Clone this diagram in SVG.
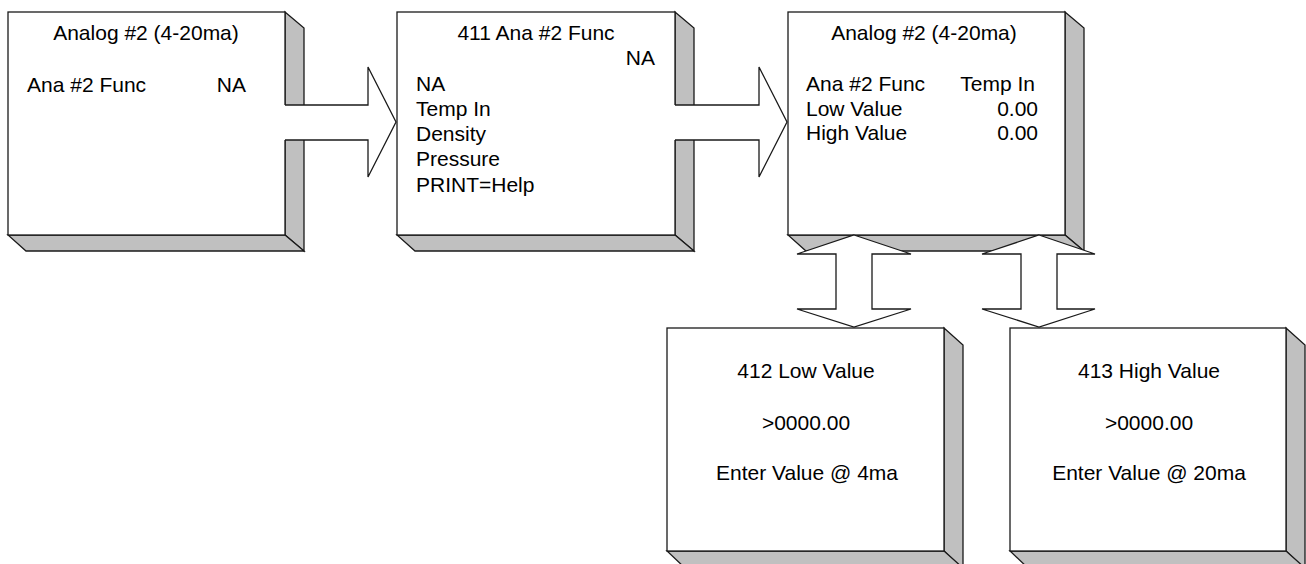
<svg xmlns="http://www.w3.org/2000/svg" width="1306" height="564" viewBox="0 0 1306 564">
<style>
.front{fill:#fff;stroke:#1a1a1a;stroke-width:1.3}
.side{fill:#c0c0c0;stroke:#1a1a1a;stroke-width:1.3;stroke-linejoin:miter}
.af{fill:#fff;stroke:none}
.as{fill:none;stroke:#1a1a1a;stroke-width:1.3}
.ad{fill:#fff;stroke:#1a1a1a;stroke-width:1.3}
text{font-family:"Liberation Sans",Arial,sans-serif;font-size:21px;fill:#000}
.c{text-anchor:middle}
.r{text-anchor:end}
</style>
<g id="node1">
<polygon class="side" points="285,12 304,28 304,251 285,235"/>
<polygon class="side" points="8,235 285,235 304,251 26,251"/>
<rect class="front" x="8" y="12" width="277" height="223"/>
<text class="c" x="146" y="40">Analog #2 (4-20ma)</text>
<text x="27" y="92">Ana #2 Func</text>
<text class="r" x="246" y="92">NA</text>
</g>
<g id="node2">
<polygon class="side" points="675,12 694,28 694,251 675,235"/>
<polygon class="side" points="397,235 675,235 694,251 415,251"/>
<rect class="front" x="397" y="12" width="278" height="223"/>
<text class="c" x="536" y="40">411 Ana #2 Func</text>
<text class="r" x="655" y="65">NA</text>
<text x="416" y="91">NA</text>
<text x="416" y="116">Temp In</text>
<text x="416" y="141">Density</text>
<text x="416" y="166">Pressure</text>
<text x="416" y="192">PRINT=Help</text>
</g>
<g id="node3">
<polygon class="side" points="1065,12 1084,28 1084,251 1065,235"/>
<polygon class="side" points="788,235 1065,235 1084,251 806,251"/>
<rect class="front" x="788" y="12" width="277" height="223"/>
<text class="c" x="924" y="40">Analog #2 (4-20ma)</text>
<text x="806" y="91">Ana #2 Func</text>
<text class="r" x="1035" y="91">Temp In</text>
<text x="806" y="116">Low Value</text>
<text class="r" x="1038" y="116">0.00</text>
<text x="806" y="140">High Value</text>
<text class="r" x="1038" y="140">0.00</text>
</g>
<g id="node4">
<polygon class="side" points="944,328 963,345 963,570 944,551"/>
<polygon class="side" points="667,551 944,551 963,568 685,568"/>
<rect class="front" x="667" y="328" width="277" height="223"/>
<text class="c" x="806" y="378">412 Low Value</text>
<text class="c" x="806" y="430">&gt;0000.00</text>
<text class="c" x="807" y="480">Enter Value @ 4ma</text>
</g>
<g id="node5">
<polygon class="side" points="1286,328 1305,345 1305,570 1286,551"/>
<polygon class="side" points="1010,551 1286,551 1305,568 1028,568"/>
<rect class="front" x="1010" y="328" width="276" height="223"/>
<text class="c" x="1149" y="378">413 High Value</text>
<text class="c" x="1149" y="430">&gt;0000.00</text>
<text class="c" x="1149" y="480">Enter Value @ 20ma</text>
</g>
<g id="connectors">
<polygon class="af" points="284,105 368,105 368,67 396,122 368,177 368,140 284,140"/>
<polyline class="as" points="285,105 368,105 368,67 396,122 368,177 368,140 285,140"/>
<polygon class="af" points="674,105 759,105 759,67 787,122 759,177 759,140 674,140"/>
<polyline class="as" points="675,105 759,105 759,67 787,122 759,177 759,140 675,140"/>
<polygon class="ad" points="854,235 911,254 872,254 872,309 911,309 854,327 797,309 836,309 836,254 797,254"/>
<polygon class="ad" points="1039,235 1095,254 1057,254 1057,309 1095,309 1039,327 982,309 1021,309 1021,254 982,254"/>
</g>
</svg>
